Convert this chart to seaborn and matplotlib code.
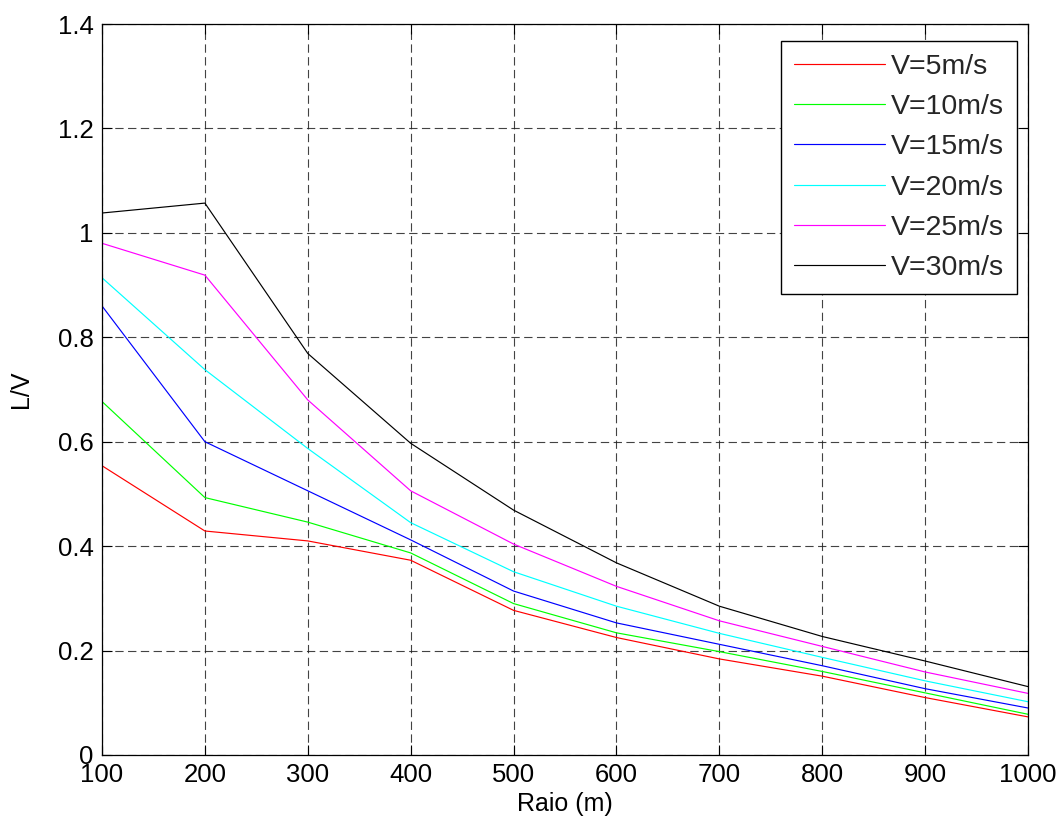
import matplotlib
matplotlib.use("Agg")
import matplotlib.pyplot as plt
import seaborn as sns
import pandas as pd
from matplotlib.ticker import FormatStrFormatter

# Radius of curve (m)
raio = [100, 200, 300, 400, 500, 600, 700, 800, 900, 1000]

# L/V ratio for each train speed
lv_5 = [0.554, 0.429, 0.410, 0.373, 0.277, 0.225, 0.184, 0.151, 0.110, 0.073]
lv_10 = [0.677, 0.493, 0.446, 0.387, 0.290, 0.234, 0.198, 0.160, 0.119, 0.078]
lv_15 = [0.860, 0.600, 0.506, 0.412, 0.314, 0.253, 0.212, 0.171, 0.127, 0.090]
lv_20 = [0.914, 0.738, 0.587, 0.445, 0.351, 0.285, 0.233, 0.187, 0.142, 0.102]
lv_25 = [0.980, 0.919, 0.680, 0.506, 0.404, 0.323, 0.257, 0.208, 0.159, 0.118]
lv_30 = [1.038, 1.057, 0.769, 0.597, 0.469, 0.368, 0.285, 0.227, 0.180, 0.131]

labels = ["V=5m/s", "V=10m/s", "V=15m/s", "V=20m/s", "V=25m/s", "V=30m/s"]
series = [lv_5, lv_10, lv_15, lv_20, lv_25, lv_30]
colors = ["#ff0000", "#00ff00", "#0000ff", "#00ffff", "#ff00ff", "#000000"]

x_ticks = [100, 200, 300, 400, 500, 600, 700, 800, 900, 1000]
y_ticks = [0, 0.2, 0.4, 0.6, 0.8, 1.0, 1.2, 1.4]

rows = []
for lab, vals in zip(labels, series):
    for r, v in zip(raio, vals):
        rows.append({"Raio": r, "LV": v, "Velocidade": lab})
df = pd.DataFrame(rows)

sns.set_theme(style="white")
plt.rcParams["font.family"] = ["Liberation Sans", "DejaVu Sans"]
plt.rcParams["lines.scale_dashes"] = False

fig = plt.figure(figsize=(10.6, 8.25), dpi=100)
ax = fig.add_axes([102 / 1060, 1 - 755 / 825, 926 / 1060, 731 / 825])

sns.lineplot(data=df, x="Raio", y="LV", hue="Velocidade", hue_order=labels,
             palette=colors, linewidth=0.85, ax=ax, legend=True)

ax.set_xlim(100, 1000)
ax.set_ylim(0, 1.4)
ax.set_xticks(x_ticks)
ax.set_yticks(y_ticks)
ax.yaxis.set_major_formatter(FormatStrFormatter("%g"))

ax.grid(True, color="#222222", linestyle=(0, (6, 3.2)), linewidth=0.8, alpha=0.85)
ax.set_axisbelow(True)

for sp in ax.spines.values():
    sp.set_color("black")
    sp.set_linewidth(0.9)

ax.tick_params(axis="both", which="major", direction="in", length=7, width=0.8,
               color="black", labelsize=18.5, labelcolor="black",
               top=True, right=True, bottom=True, left=True, pad=6)

ax.set_xlabel("Raio (m)", fontsize=18, color="black", labelpad=3)
ax.set_ylabel("L/V", fontsize=18, color="black", labelpad=18)

handles, hlabels = ax.get_legend_handles_labels()
leg = ax.legend(handles, hlabels, loc="upper right",
                bbox_to_anchor=(1 - 11 / 926, 1 - 17 / 731), borderaxespad=0,
                fontsize=20.5, frameon=True, fancybox=False, shadow=False,
                handlelength=3.2, handletextpad=0.22, labelspacing=0.5,
                borderpad=0.45, title=None)
leg.get_frame().set_edgecolor("black")
leg.get_frame().set_linewidth(1.0)
leg.get_frame().set_alpha(1)
for line in leg.get_lines():
    line.set_linewidth(0.85)

fig.savefig("out.png", dpi=100, facecolor="white")
